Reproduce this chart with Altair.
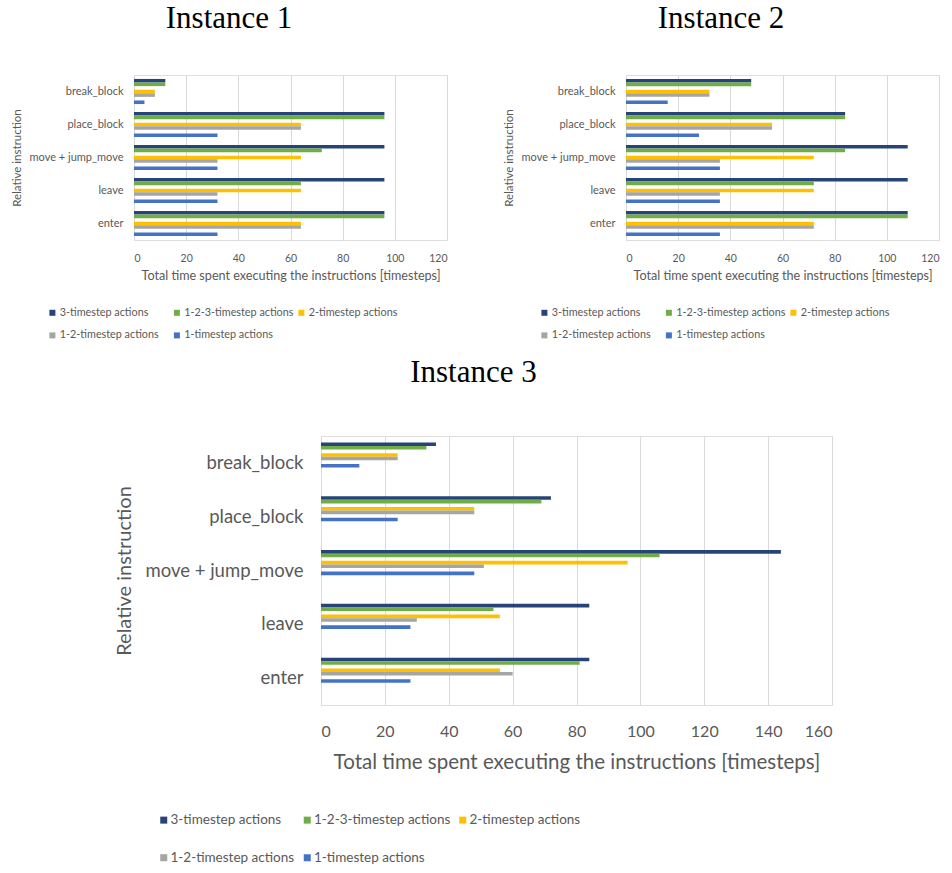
import altair as alt
import pandas as pd

# Instruction categories, top to bottom
categories = ["break_block", "place_block", "move + jump_move", "leave", "enter"]

# Action-set series, in legend order
series = [
    "3-timestep actions",
    "1-2-3-timestep actions",
    "2-timestep actions",
    "1-2-timestep actions",
    "1-timestep actions",
]
series_colors = ["#264478", "#70AD47", "#FFC000", "#A5A5A5", "#4472C4"]

# Bar slots inside each category band (two empty slots split the groups)
bar_slots = [
    "3-timestep actions",
    "1-2-3-timestep actions",
    " ",
    "2-timestep actions",
    "1-2-timestep actions",
    "  ",
    "1-timestep actions",
]

# Instance 1 totals (timesteps), per category
inst1_3ts = [12, 96, 96, 96, 96]
inst1_123ts = [12, 96, 72, 64, 96]
inst1_2ts = [8, 64, 64, 64, 64]
inst1_12ts = [8, 64, 32, 32, 64]
inst1_1ts = [4, 32, 32, 32, 32]

# Instance 2 totals
inst2_3ts = [48, 84, 108, 108, 108]
inst2_123ts = [48, 84, 84, 72, 108]
inst2_2ts = [32, 56, 72, 72, 72]
inst2_12ts = [32, 56, 36, 36, 72]
inst2_1ts = [16, 28, 36, 36, 36]

# Instance 3 totals
inst3_3ts = [36, 72, 144, 84, 84]
inst3_123ts = [33, 69, 106, 54, 81]
inst3_2ts = [24, 48, 96, 56, 56]
inst3_12ts = [24, 48, 51, 30, 60]
inst3_1ts = [12, 24, 48, 28, 28]

# Axis tick values
ticks_small = [0, 20, 40, 60, 80, 100, 120]
ticks_large = [0, 20, 40, 60, 80, 100, 120, 140, 160]

X_TITLE = "Total time spent executing the instructions [timesteps]"
Y_TITLE = "Relative instruction"
TEXT_GREY = "#595959"
GRID_GREY = "#d9d9d9"
SANS = "Lato"
SERIF = "Liberation Serif"


def to_frame(columns):
    rows = []
    for name, values in zip(series, columns):
        for cat, v in zip(categories, values):
            rows.append({"category": cat, "series": name, "value": v})
    return pd.DataFrame(rows)


def panel(title, columns, ticks, s):
    """One clustered horizontal bar chart; s holds the panel's sizes."""
    df = to_frame(columns)
    return (
        alt.Chart(df)
        .mark_bar()
        .encode(
            x=alt.X(
                "value:Q",
                scale=alt.Scale(domain=[ticks[0], ticks[-1]], nice=False, zero=True),
                axis=alt.Axis(
                    values=ticks,
                    grid=True,
                    gridColor=GRID_GREY,
                    gridWidth=1,
                    domain=False,
                    ticks=False,
                    labelFont=SANS,
                    labelFontSize=s["xlab"],
                    labelColor=TEXT_GREY,
                    labelPadding=s["xlabpad"],
                    title=X_TITLE,
                    titleFont=SANS,
                    titleFontSize=s["xtitle"],
                    titleFontWeight="normal",
                    titleColor=TEXT_GREY,
                    titlePadding=s["xtitlepad"],
                ),
            ),
            y=alt.Y(
                "category:N",
                sort=categories,
                scale=alt.Scale(paddingInner=0.24, paddingOuter=0.12),
                axis=alt.Axis(
                    domain=True,
                    domainColor=GRID_GREY,
                    domainWidth=1,
                    ticks=False,
                    labelFont=SANS,
                    labelFontSize=s["ylab"],
                    labelColor=TEXT_GREY,
                    labelPadding=s["ylabpad"],
                    title=Y_TITLE,
                    titleFont=SANS,
                    titleFontSize=s["ytitle"],
                    titleFontWeight="normal",
                    titleColor=TEXT_GREY,
                    titlePadding=s["ytitlepad"],
                ),
            ),
            yOffset=alt.YOffset(
                "series:N",
                scale=alt.Scale(domain=bar_slots, paddingInner=0, paddingOuter=0),
            ),
            color=alt.Color(
                "series:N",
                scale=alt.Scale(domain=series, range=series_colors),
                legend=alt.Legend(
                    orient="none",
                    legendX=s["legx"],
                    legendY=s["legy"],
                    direction="horizontal",
                    columns=3,
                    title=None,
                    symbolType="square",
                    symbolSize=s["sym"],
                    symbolStrokeWidth=0,
                    labelFont=SANS,
                    labelFontSize=s["leg"],
                    labelColor=TEXT_GREY,
                    labelOffset=s["legoff"],
                    columnPadding=s["colpad"],
                    rowPadding=s["rowpad"],
                    gridAlign=s["grid"],
                    labelLimit=400,
                ),
            ),
        )
        .properties(
            width=s["w"],
            height=s["h"],
            title=alt.TitleParams(
                title,
                font=SERIF,
                fontSize=s["title"],
                fontWeight="normal",
                color="black",
                anchor="middle",
                frame="bounds",
                baseline="alphabetic",
                offset=s["titleoff"],
            ),
        )
    )


small = dict(
    w=313, h=165, xlab=10.5, xlabpad=13, xtitle=12.6, xtitlepad=6,
    ylab=11, ylabpad=11, ytitle=11.5, ytitlepad=7,
    legx=-87, legy=232, sym=36, leg=10.8, legoff=2, colpad=2.5, rowpad=11,
    grid="all", title=31, titleoff=16,
)
large = dict(
    w=511, h=269, xlab=16, xlabpad=18.5, xtitle=20.5, xtitlepad=13,
    ylab=18.5, ylabpad=18, ytitle=20, ytitlepad=10,
    legx=-164, legy=377, sym=49, leg=13.5, legoff=0, colpad=5.5, rowpad=23,
    grid="each", title=31, titleoff=23,
)

c1 = panel("Instance 1", [inst1_3ts, inst1_123ts, inst1_2ts, inst1_12ts, inst1_1ts], ticks_small, small)
c2 = panel("Instance 2", [inst2_3ts, inst2_123ts, inst2_2ts, inst2_12ts, inst2_1ts], ticks_small, small)
c3 = panel("Instance 3", [inst3_3ts, inst3_123ts, inst3_2ts, inst3_12ts, inst3_1ts], ticks_large, large)

# Empty spacer that indents the lower panel
spacer = (
    alt.Chart(pd.DataFrame({"v": [0]}))
    .mark_text(text="", opacity=0)
    .encode(x=alt.value(0), y=alt.value(0))
    .properties(width=187, height=1, view=alt.ViewBackground(strokeOpacity=0))
)

top_row = (
    alt.hconcat(c1, c2, spacing=54)
    .resolve_scale(color="independent")
    .resolve_legend(color="independent")
)
bottom_row = (
    alt.hconcat(spacer, c3, spacing=0, bounds="flush")
    .resolve_scale(color="independent")
    .resolve_legend(color="independent")
)
chart = (
    alt.vconcat(top_row, bottom_row, spacing=14)
    .resolve_scale(color="independent")
    .resolve_legend(color="independent")
    .properties(padding={"left": 10, "top": 2, "right": 0, "bottom": 100})
    .configure_view(stroke=None)
    .configure(background="white")
)

chart.save("out.html", embed_options={"renderer": "svg", "actions": False})
